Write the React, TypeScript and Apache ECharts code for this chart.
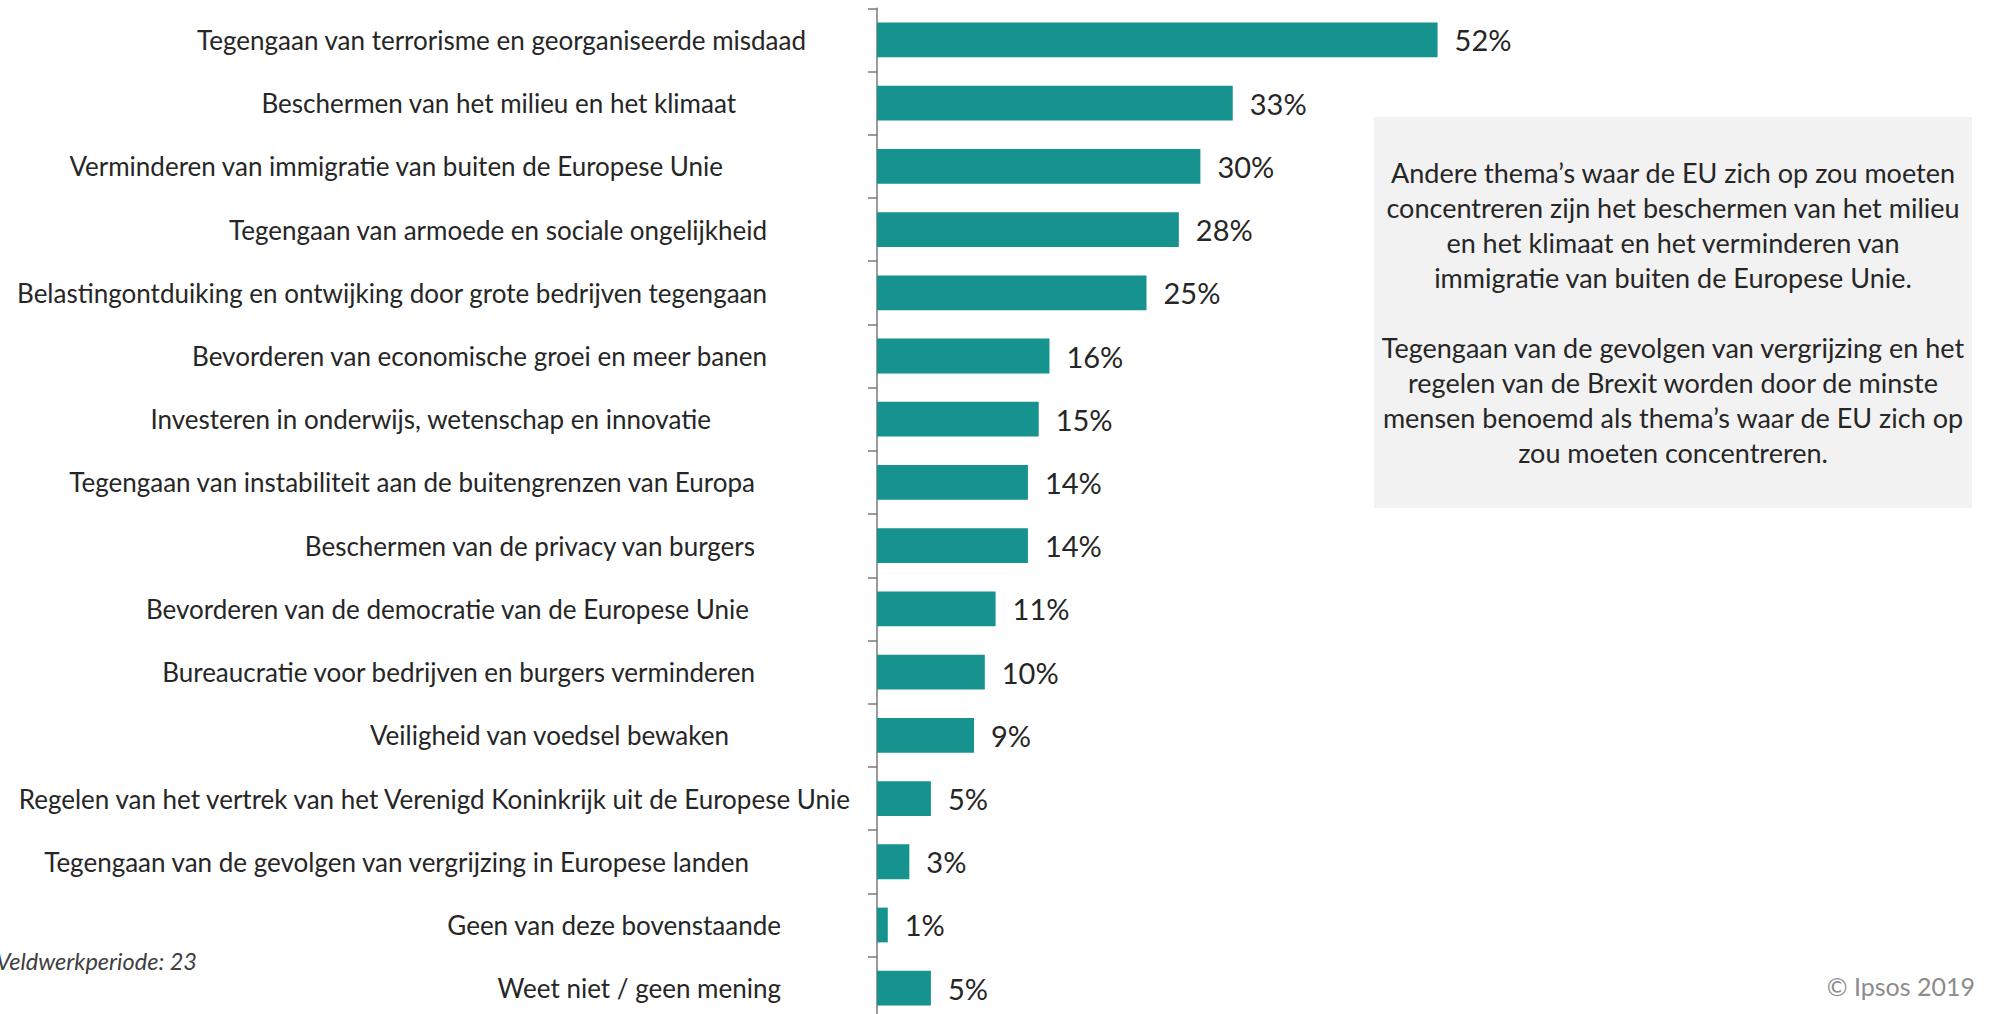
import React, { useEffect, useRef } from "react";
import * as echarts from "echarts";

const categories = [
  "Tegengaan van terrorisme en georganiseerde misdaad",
  "Beschermen van het milieu en het klimaat",
  "Verminderen van immigratie van buiten de Europese Unie",
  "Tegengaan van armoede en sociale ongelijkheid",
  "Belastingontduiking en ontwijking door grote bedrijven tegengaan",
  "Bevorderen van economische groei en meer banen",
  "Investeren in onderwijs, wetenschap en innovatie",
  "Tegengaan van instabiliteit aan de buitengrenzen van Europa",
  "Beschermen van de privacy van burgers",
  "Bevorderen van de democratie van de Europese Unie",
  "Bureaucratie voor bedrijven en burgers verminderen",
  "Veiligheid van voedsel bewaken",
  "Regelen van het vertrek van het Verenigd Koninkrijk uit de Europese Unie",
  "Tegengaan van de gevolgen van vergrijzing in Europese landen",
  "Geen van deze bovenstaande",
  "Weet niet / geen mening",
];

const values = [52, 33, 30, 28, 25, 16, 15, 14, 14, 11, 10, 9, 5, 3, 1, 5];

const noteText =
  "Andere thema\u2019s waar de EU zich op zou moeten\nconcentreren zijn het beschermen van het milieu\nen het klimaat en het verminderen van\nimmigratie van buiten de Europese Unie.\n\nTegengaan van de gevolgen van vergrijzing en het\nregelen van de Brexit worden door de minste\nmensen benoemd als thema\u2019s waar de EU zich op\nzou moeten concentreren.";

const footnoteText = "Veldwerkperiode: 23";
const copyrightText = "\u00a9 Ipsos 2019";

// layout: distance (px) from axis line to the right end of each category label
const labelGap = [71, 141, 154, 110, 110, 110, 166, 122, 122, 128, 122, 148, 27, 128, 96, 96];

const FONT = "Lato";
const TEXT_COLOR = "#262626";
const BAR_COLOR = "#16928F";

export default function App() {
  const ref = useRef<HTMLDivElement>(null);

  useEffect(() => {
    if (!ref.current) return;
    const chart = echarts.init(ref.current, undefined, { renderer: "svg" });
    const baseMargin = 18;
    const rich: Record<string, any> = {};
    labelGap.forEach((g, i) => {
      rich["r" + i] = {
        fontFamily: FONT,
        fontSize: 26,
        color: TEXT_COLOR,
        padding: [0, Math.max(0, g - baseMargin), 0, 0],
      };
    });

    chart.setOption({
      animation: false,
      backgroundColor: "#ffffff",
      grid: { left: 877, top: 8.3, width: 1078, height: 1011.5, containLabel: false },
      xAxis: {
        type: "value",
        min: 0,
        max: 100,
        show: false,
      },
      yAxis: {
        type: "category",
        inverse: true,
        data: categories,
        axisLine: { show: true, lineStyle: { color: "#7a7a7a", width: 1.5 } },
        axisTick: { show: true, length: 9, lineStyle: { color: "#7a7a7a", width: 1.5 } },
        splitLine: { show: false },
        axisLabel: {
          margin: baseMargin,
          interval: 0,
          fontFamily: FONT,
          fontSize: 26,
          color: TEXT_COLOR,
          formatter: (v: string, i: number) => `{r${i}|${v}}`,
          rich,
        },
      },
      series: [
        {
          type: "bar",
          data: values,
          barWidth: "55%",
          itemStyle: { color: BAR_COLOR },
          label: {
            show: true,
            position: "right",
            distance: 17,
            formatter: "{c}%",
            fontFamily: FONT,
            fontSize: 29,
            color: TEXT_COLOR,
          },
        },
      ],
      graphic: [
        {
          type: "rect",
          shape: { x: 1374, y: 117, width: 598, height: 391 },
          style: { fill: "#f2f2f2" },
          silent: true,
        },
        {
          type: "text",
          x: 1673,
          y: 312,
          style: {
            text: noteText,
            fontFamily: FONT,
            fontSize: 27,
            lineHeight: 35,
            fill: TEXT_COLOR,
            textAlign: "center",
            textVerticalAlign: "middle",
          },
        },
        {
          type: "text",
          x: 197,
          y: 961,
          style: {
            text: footnoteText,
            fontFamily: FONT,
            fontStyle: "italic",
            fontSize: 23.5,
            fill: "#404040",
            textAlign: "right",
            textVerticalAlign: "middle",
          },
        },
        {
          type: "text",
          x: 1975,
          y: 986,
          style: {
            text: copyrightText,
            fontFamily: FONT,
            fontSize: 25,
            fill: "#8c8c8c",
            textAlign: "right",
            textVerticalAlign: "middle",
          },
        },
      ],
    });
    return () => chart.dispose();
  }, []);

  return (
    <div
      ref={ref}
      style={{ position: "fixed", left: 0, top: 0, width: 1994, height: 1040 }}
    />
  );
}
